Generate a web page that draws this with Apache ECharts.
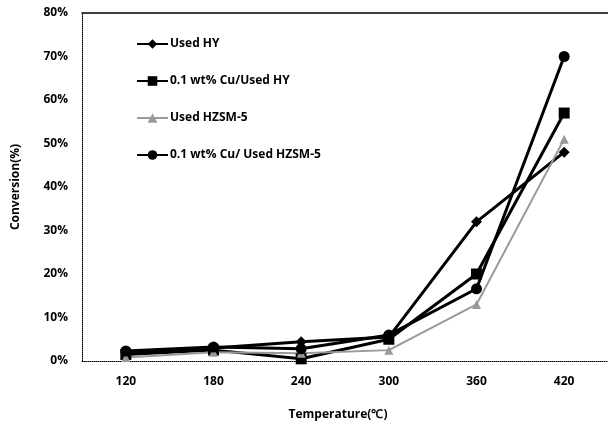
<!DOCTYPE html>
<html>
<head>
<meta charset="utf-8">
<script src="https://cdn.jsdelivr.net/npm/echarts@6/dist/echarts.min.js"></script>
<style>html,body{margin:0;padding:0;background:#fff}#c{width:608px;height:423px}</style>
</head>
<body>
<div id="c"></div>
<script>
var categories = ['120', '180', '240', '300', '360', '420'];
var seriesNames = ['Used HY', '0.1 wt% Cu/Used HY', 'Used HZSM-5', '0.1 wt% Cu/ Used HZSM-5'];
var usedHY = [2.0, 3.0, 4.4, 5.5, 32, 48];
var cuUsedHY = [1.5, 2.5, 0.5, 5.0, 20, 57];
var usedHZSM5 = [0.8, 2.0, 1.8, 2.5, 13, 51];
var cuUsedHZSM5 = [2.3, 3.2, 2.8, 6.0, 16.6, 70];
var yMin = 0, yMax = 80, yStep = 10;

var font = 'Open Sans';
var chart = echarts.init(document.getElementById('c'));
function mk(name, data, symbol, size, color, lineType, width) {
  return {
    name: name, type: 'line', data: data, symbol: symbol, symbolSize: size,
    showSymbol: true,
    itemStyle: {color: color},
    lineStyle: {color: color, width: width, type: lineType},
    z: 3
  };
}
chart.setOption({
  animation: false,
  backgroundColor: '#fff',
  grid: {left: 82, top: 13, right: -8, bottom: 62},
  title: {
    text: 'Temperature(℃)', left: 333, top: 404, textAlign: 'center',
    textStyle: {fontFamily: font, fontSize: 12, fontWeight: 'bold', color: '#000'}
  },
  legend: {
    orient: 'vertical', left: 131, top: 33, itemWidth: 31, itemHeight: 12, itemGap: 25,
    textStyle: {fontFamily: font, fontSize: 12, fontWeight: 'bold', color: '#000', padding: [0,0,0,-3]},
    data: seriesNames
  },
  xAxis: [{
    type: 'category', data: categories, boundaryGap: true,
    axisLine: {lineStyle: {color: '#000', type: 'dotted', width: 1}},
    axisTick: {show: false},
    axisLabel: {fontFamily: font, fontSize: 12, fontWeight: 'bold', color: '#000', margin: 15}
  }, {
    type: 'category', data: categories, position: 'top',
    axisLine: {lineStyle: {color: '#000', width: 1.5}},
    axisTick: {show: false}, axisLabel: {show: false}
  }],
  yAxis: {
    type: 'value', min: yMin, max: yMax, interval: yStep,
    name: 'Conversion(%)', nameLocation: 'middle', nameGap: 60, nameRotate: 90,
    nameTextStyle: {fontFamily: font, fontSize: 12, fontWeight: 'bold', color: '#000'},
    axisLine: {show: true, lineStyle: {color: '#000', type: 'dotted', width: 1}},
    axisTick: {show: false},
    splitLine: {show: false},
    axisLabel: {fontFamily: font, fontSize: 12, fontWeight: 'bold', color: '#000', margin: 14, formatter: '{value}%'}
  },
  series: [
    mk(seriesNames[0], usedHY, 'diamond', 11, '#000', 'solid', 3),
    mk(seriesNames[1], cuUsedHY, 'rect', 11, '#000', 'solid', 3),
    mk(seriesNames[2], usedHZSM5, 'triangle', 9, '#999', 'solid', 2),
    mk(seriesNames[3], cuUsedHZSM5, 'circle', 11, '#000', 'solid', 3)
  ]
});
</script>
</body>
</html>
